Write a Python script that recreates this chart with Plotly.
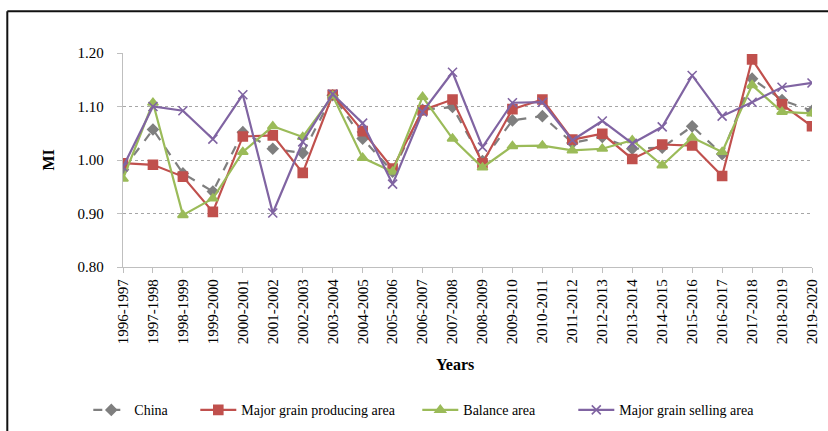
import plotly.graph_objects as go

# Malmquist index (MI) by period and region
periods = ["1996-1997", "1997-1998", "1998-1999", "1999-2000", "2000-2001", "2001-2002",
           "2002-2003", "2003-2004", "2004-2005", "2005-2006", "2006-2007", "2007-2008",
           "2008-2009", "2009-2010", "2010-2011", "2011-2012", "2012-2013", "2013-2014",
           "2014-2015", "2015-2016", "2016-2017", "2017-2018", "2018-2019", "2019-2020"]

china = [0.982, 1.057, 0.975, 0.941, 1.052, 1.021, 1.013, 1.121, 1.040, 0.978, 1.094, 1.099,
         0.998, 1.074, 1.082, 1.032, 1.043, 1.021, 1.023, 1.063, 1.011, 1.152, 1.112, 1.092]
producing = [0.994, 0.991, 0.969, 0.903, 1.044, 1.046, 0.976, 1.122, 1.054, 0.984, 1.093, 1.113,
             0.994, 1.095, 1.113, 1.038, 1.049, 1.002, 1.029, 1.027, 0.970, 1.188, 1.104, 1.063]
balance = [0.965, 1.107, 0.897, 0.928, 1.015, 1.063, 1.043, 1.120, 1.004, 0.978, 1.118, 1.040,
           0.986, 1.026, 1.027, 1.018, 1.021, 1.037, 0.990, 1.042, 1.015, 1.140, 1.090, 1.087]
selling = [0.987, 1.100, 1.092, 1.039, 1.122, 0.901, 1.034, 1.123, 1.069, 0.955, 1.090, 1.164,
           1.024, 1.107, 1.108, 1.037, 1.073, 1.031, 1.062, 1.158, 1.082, 1.108, 1.136, 1.144]

y_ticks = [0.80, 0.90, 1.00, 1.10, 1.20]

W, H = 828, 431
L, R, T, B = 122.7, 16.3, 52.7, 164.3
PW, PH = W - L - R, H - T - B


def px_x(p):
    return (p - L) / PW


def px_y(p):
    return (H - B - p) / PH


FONT = "Liberation Serif"

series = [
    ("China", china, "#7f7f7f", "dash", "diamond", 8, "legend"),
    ("Major grain producing area", producing, "#c0504d", "solid", "square", 9, "legend2"),
    ("Balance area", balance, "#9bbb59", "solid", "triangle-up", 9, "legend3"),
    ("Major grain selling area", selling, "#8064a2", "solid", "x-thin-open", 9, "legend4"),
]

fig = go.Figure()
for name, vals, color, dash, symbol, size, leg in series:
    fig.add_trace(go.Scatter(
        x=list(range(len(periods))), y=vals, name=name, mode="lines+markers",
        line=dict(color=color, width=2.2, dash=dash),
        marker=dict(symbol=symbol, size=size, color=color,
                    line=dict(color=color, width=1.6)),
        legend=leg,
    ))

legend_x = [93, 200, 422, 578]
legend_common = dict(orientation="h", yanchor="middle", xanchor="left",
                     bgcolor="rgba(0,0,0,0)", borderwidth=0, itemwidth=36,
                     font=dict(family=FONT, size=14, color="#000"))

fig.update_layout(
    width=W, height=H,
    margin=dict(l=L, r=R, t=T, b=B, autoexpand=False),
    paper_bgcolor="white", plot_bgcolor="white",
    font=dict(family=FONT, size=15, color="#000"),
    showlegend=True,
    legend=dict(x=px_x(legend_x[0] - 5), y=px_y(410), **legend_common),
    legend2=dict(x=px_x(legend_x[1] - 5), y=px_y(410), **legend_common),
    legend3=dict(x=px_x(legend_x[2] - 5), y=px_y(410), **legend_common),
    legend4=dict(x=px_x(legend_x[3] - 5), y=px_y(410), **legend_common),
    xaxis=dict(
        range=[0, len(periods) - 1],
        tickmode="array", tickvals=list(range(len(periods))), ticktext=periods,
        tickangle=-90, ticks="outside", ticklen=5, tickcolor="#bfbfbf",
        showline=True, linecolor="#bfbfbf", linewidth=1.3,
        showgrid=False, zeroline=False,
        tickfont=dict(family=FONT, size=15, color="#000"),
    ),
    yaxis=dict(
        range=[0.80, 1.20],
        tickmode="array", tickvals=y_ticks, ticktext=[f"{v:.2f}" for v in y_ticks],
        ticks="outside", ticklen=5, tickcolor="#bfbfbf", ticklabelstandoff=10,
        showline=True, linecolor="#bfbfbf", linewidth=1.3,
        showgrid=True, gridcolor="#a6a6a6", griddash="dot", gridwidth=1,
        zeroline=False,
        tickfont=dict(family=FONT, size=15, color="#000"),
    ),
    annotations=[
        dict(text="<b>Years</b>", x=px_x(455), y=px_y(364), xref="paper", yref="paper",
             showarrow=False, xanchor="center", yanchor="middle",
             font=dict(family=FONT, size=16, color="#000")),
        dict(text="<b>MI</b>", x=px_x(48), y=px_y(160), xref="paper", yref="paper",
             showarrow=False, xanchor="center", yanchor="middle", textangle=-90,
             font=dict(family=FONT, size=16, color="#000")),
    ],
    shapes=[
        dict(type="line", xref="paper", yref="paper",
             x0=px_x(7), y0=px_y(11), x1=px_x(W + 10), y1=px_y(11),
             line=dict(color="#111", width=2)),
        dict(type="line", xref="paper", yref="paper",
             x0=px_x(7), y0=px_y(11), x1=px_x(7), y1=px_y(H + 10),
             line=dict(color="#111", width=2)),
    ],
)

fig.write_html("out.html")
